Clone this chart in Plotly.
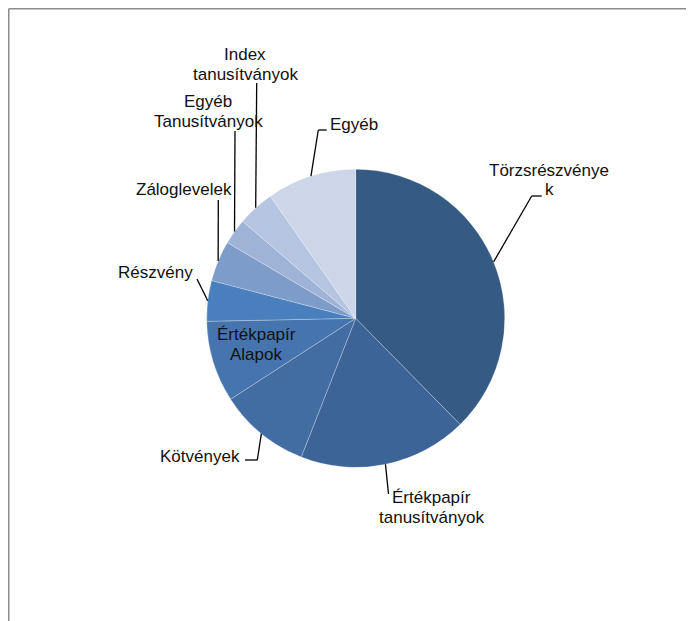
import math
import plotly.graph_objects as go

# ---- data ----
categories = ["Törzsrészvények", "Értékpapír tanusítványok", "Kötvények", "Értékpapír Alapok",
              "Részvény", "Záloglevelek", "Egyéb Tanusítványok", "Index tanusítványok", "Egyéb"]
values = [37.6, 18.3, 9.9, 8.8, 4.4, 4.4, 2.8, 4.0, 9.7]
label_texts = ["Törzsrészvénye\nk", "Értékpapír\ntanusítványok", "Kötvények", "Értékpapír\nAlapok",
               "Részvény", "Záloglevelek", "Egyéb\nTanusítványok", "Index\ntanusítványok", "Egyéb"]
colors = ["#355A84", "#3C6497", "#416DA3", "#4674AE", "#4A7FBD",
          "#7E9CCA", "#9FB3D7", "#B5C4E0", "#CCD6E8"]

# ---- layout (screen pixels; page body has an 8px margin) ----
W, H = 694, 621
OFF = 8
CX, CY, R = 355.7, 318.3, 149.0

# label block centers (px) and leader elbows (px) after the slice edge point
label_pos = [(549, 180), (431, 507), (200, 456), (256, 344), (155, 272),
             (184, 190), (208, 111), (245, 64), (354, 125)]
leaders = [[(531.7, 196), (541.7, 196)],
           [(388.5, 494)],
           [(257.3, 460), (245, 460)],
           None,
           [(197, 279)],
           [(218.3, 200)],
           [(235, 131)],
           [(256.7, 83)],
           [(318.3, 130), (326.7, 130)]]

def px(x):
    return (x - OFF) / W

def py(y):
    return 1 - (y - OFF) / H

fig = go.Figure(go.Pie(
    labels=categories, values=values, sort=False, direction="clockwise", rotation=0,
    marker=dict(colors=colors, line=dict(color="rgba(255,255,255,0.5)", width=0.5)),
    textinfo="none", hoverinfo="label+percent", showlegend=False,
    domain=dict(x=[px(CX - R), px(CX + R)], y=[py(CY + R), py(CY - R)]),
))

shapes = []
annotations = []
total = sum(values)
cum = 0.0
LINE_H = 20
for i, v in enumerate(values):
    mid = (cum + v / 2) / total * 2 * math.pi
    cum += v
    ex = CX + R * math.sin(mid)
    ey = CY - R * math.cos(mid)
    if leaders[i]:
        pts = [(ex, ey)] + leaders[i]
        for (x0, y0), (x1, y1) in zip(pts[:-1], pts[1:]):
            shapes.append(dict(type="line", xref="paper", yref="paper",
                               x0=px(x0), y0=py(y0), x1=px(x1), y1=py(y1),
                               line=dict(color="#000000", width=1.3)))
    lines = label_texts[i].split("\n")
    lx, ly = label_pos[i]
    n = len(lines)
    for j, t in enumerate(lines):
        yy = ly + (j - (n - 1) / 2) * LINE_H
        annotations.append(dict(text=t, x=px(lx), y=py(yy), xref="paper", yref="paper",
                                showarrow=False, xanchor="center", yanchor="middle",
                                font=dict(family="Liberation Sans, Arial, sans-serif",
                                          size=17, color="#111111")))

# outer frame (top and left edges visible)
shapes.append(dict(type="line", xref="paper", yref="paper", x0=px(8.7), y0=py(8.7), x1=1.02, y1=py(8.7),
                   line=dict(color="#8C8C8C", width=1.6)))
shapes.append(dict(type="line", xref="paper", yref="paper", x0=px(8.7), y0=py(8.7), x1=px(8.7), y1=-0.02,
                   line=dict(color="#8C8C8C", width=1.6)))

fig.update_layout(width=W, height=H, margin=dict(l=0, r=0, t=0, b=0),
                  paper_bgcolor="white", plot_bgcolor="white",
                  shapes=shapes, annotations=annotations)

fig.write_html("out.html")
